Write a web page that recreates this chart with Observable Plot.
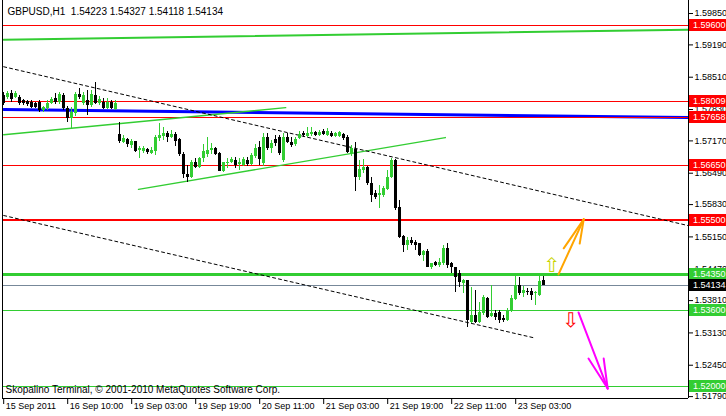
<!DOCTYPE html>
<html><head><meta charset="utf-8">
<script src="https://cdn.jsdelivr.net/npm/d3@7"></script>
<script src="https://cdn.jsdelivr.net/npm/@observablehq/plot@0.6"></script>
<style>
html,body{margin:0;padding:0;background:#fff;}
#chart{width:726px;height:416px;overflow:hidden;}
</style></head><body><div id="chart"></div>
<script>
const symbol = "GBPUSD", timeframe = "H1";
const open = [1.5812,1.5808,1.5817,1.5808,1.5808,1.5802,1.5800,1.5798,1.5796,1.5798,
1.5781,1.5785,1.5796,1.5806,1.5798,1.5812,1.5785,1.5764,1.5775,1.5815,
1.5796,1.5802,1.5791,1.5812,1.5796,1.5798,1.5785,1.5798,1.5783,1.5731,
1.5714,1.5720,1.5707,1.5716,1.5697,1.5695,1.5699,1.5691,1.5695,1.5722,
1.5726,1.5733,1.5724,1.5731,1.5720,1.5689,1.5647,1.5640,1.5672,1.5661,
1.5680,1.5689,1.5697,1.5701,1.5691,1.5653,1.5670,1.5672,1.5676,1.5668,
1.5665,1.5676,1.5668,1.5684,1.5703,1.5670,1.5724,1.5701,1.5720,1.5724,
1.5676,1.5724,1.5714,1.5710,1.5722,1.5733,1.5726,1.5731,1.5735,1.5728,
1.5737,1.5728,1.5733,1.5726,1.5726,1.5731,1.5724,1.5691,1.5699,1.5640,
1.5655,1.5661,1.5628,1.5607,1.5602,1.5602,1.5615,1.5640,1.5676,1.5577,
1.5516,1.5497,1.5507,1.5503,1.5501,1.5476,1.5484,1.5451,1.5461,1.5455,
1.5459,1.5491,1.5459,1.5451,1.5438,1.5417,1.5423,1.5335,1.5350,1.5335,
1.5354,1.5386,1.5348,1.5354,1.5356,1.5344,1.5339,1.5360,1.5384,1.5413,
1.5396,1.5400,1.5400,1.5396,1.5392,1.54223];
const high = [1.5819,1.5821,1.5823,1.5821,1.5812,1.5804,1.5802,1.5802,1.5798,1.5802,
1.5789,1.5802,1.5808,1.5817,1.5819,1.5817,1.5789,1.5787,1.5819,1.5827,
1.5819,1.5823,1.5823,1.5840,1.5810,1.5806,1.5806,1.5802,1.5802,1.5756,
1.5728,1.5722,1.5720,1.5716,1.5705,1.5705,1.5701,1.5703,1.5728,1.5754,
1.5745,1.5737,1.5739,1.5735,1.5722,1.5693,1.5665,1.5676,1.5680,1.5682,
1.5710,1.5724,1.5712,1.5703,1.5693,1.5672,1.5680,1.5682,1.5682,1.5680,
1.5682,1.5682,1.5691,1.5710,1.5716,1.5733,1.5733,1.5718,1.5728,1.5728,
1.5733,1.5733,1.5724,1.5724,1.5737,1.5737,1.5745,1.5745,1.5737,1.5739,
1.5741,1.5743,1.5737,1.5735,1.5737,1.5733,1.5728,1.5707,1.5714,1.5676,
1.5678,1.5663,1.5640,1.5613,1.5623,1.5621,1.5655,1.5680,1.5678,1.5592,
1.5518,1.5514,1.5514,1.5507,1.5501,1.5486,1.5488,1.5459,1.5463,1.5470,
1.5497,1.5501,1.5461,1.5451,1.5444,1.5426,1.5423,1.5409,1.5402,1.5377,
1.5392,1.5388,1.5413,1.5360,1.5360,1.5350,1.5365,1.5392,1.5434,1.5430,
1.5411,1.5407,1.5407,1.5400,1.5432,1.54327];
const low = [1.5791,1.5804,1.5798,1.5806,1.5791,1.5791,1.5789,1.5785,1.5785,1.5777,
1.5777,1.5781,1.5794,1.5794,1.5794,1.5781,1.5756,1.5743,1.5768,1.5804,
1.5791,1.5770,1.5787,1.5794,1.5791,1.5783,1.5783,1.5783,1.5781,1.5712,
1.5712,1.5703,1.5701,1.5693,1.5680,1.5691,1.5689,1.5689,1.5686,1.5716,
1.5718,1.5714,1.5722,1.5705,1.5684,1.5638,1.5630,1.5638,1.5659,1.5659,
1.5672,1.5682,1.5689,1.5686,1.5653,1.5651,1.5659,1.5670,1.5659,1.5655,
1.5663,1.5663,1.5665,1.5680,1.5665,1.5663,1.5697,1.5691,1.5705,1.5686,
1.5672,1.5712,1.5703,1.5705,1.5720,1.5724,1.5724,1.5726,1.5726,1.5726,
1.5728,1.5726,1.5724,1.5724,1.5724,1.5718,1.5691,1.5684,1.5611,1.5634,
1.5649,1.5623,1.5588,1.5594,1.5575,1.5598,1.5613,1.5638,1.5571,1.5512,
1.5482,1.5486,1.5497,1.5486,1.5474,1.5463,1.5451,1.5447,1.5453,1.5451,
1.5455,1.5449,1.5438,1.5398,1.5409,1.5396,1.5325,1.5333,1.5333,1.5333,
1.5350,1.5344,1.5346,1.5339,1.5333,1.5335,1.5337,1.5356,1.5381,1.5392,
1.5388,1.5392,1.5381,1.5371,1.5390,1.54118];
const close = [1.5796,1.5817,1.5804,1.5817,1.5796,1.5796,1.5794,1.5787,1.5787,1.5781,
1.5787,1.5796,1.5804,1.5798,1.5815,1.5785,1.5764,1.5777,1.5815,1.5808,
1.5812,1.5791,1.5815,1.5796,1.5804,1.5785,1.5798,1.5785,1.5796,1.5716,
1.5722,1.5710,1.5716,1.5695,1.5701,1.5701,1.5693,1.5697,1.5724,1.5728,
1.5733,1.5724,1.5731,1.5716,1.5689,1.5647,1.5640,1.5672,1.5661,1.5680,
1.5695,1.5697,1.5701,1.5689,1.5653,1.5672,1.5672,1.5678,1.5665,1.5672,
1.5678,1.5668,1.5686,1.5701,1.5678,1.5724,1.5701,1.5712,1.5712,1.5691,
1.5724,1.5714,1.5707,1.5720,1.5731,1.5728,1.5733,1.5735,1.5728,1.5735,
1.5731,1.5737,1.5726,1.5733,1.5735,1.5722,1.5693,1.5701,1.5640,1.5657,
1.5661,1.5628,1.5602,1.5598,1.5607,1.5617,1.5640,1.5676,1.5575,1.5514,
1.5497,1.5507,1.5501,1.5497,1.5476,1.5484,1.5451,1.5459,1.5455,1.5461,
1.5491,1.5455,1.5451,1.5430,1.5419,1.5423,1.5339,1.5350,1.5335,1.5356,
1.5388,1.5346,1.5354,1.5346,1.5339,1.5339,1.5360,1.5386,1.5413,1.5396,
1.5402,1.5398,1.5392,1.5398,1.5421,1.54134];

const xTickIndex = [0,16,32,48,64,80,96,112,128];
const xTickLabels = ["15 Sep 2011","16 Sep 10:00","19 Sep 03:00","19 Sep 19:00","20 Sep 11:00","21 Sep 03:00","21 Sep 19:00","22 Sep 11:00","23 Sep 03:00"];
const yTicks = [1.59850,1.59190,1.58510,1.57830,1.57170,1.56490,1.55830,1.55150,1.54470,1.53810,1.53130,1.52450,1.51790];

const redLevels = [1.59600,1.58009,1.57658,1.56650];
const keyResistance = [1.55500];
const keySupport = [1.54350];
const greenLevels = [1.53600,1.52000];

const topTrend = [[0,1.5930],[171,1.5951]];
const blueTrend = [[0,1.5783],[171,1.5766]];
const channelUpper = [[0,1.5730],[70.5,1.5787]];
const channelLower = [[33.7,1.5615],[110.4,1.5724]];
const dottedUpper = [[0,1.5873],[171,1.5539]];
const dottedLower = [[0,1.5560],[132.4,1.5303]];
const bullTarget = [[[138.7,1.5436],[145,1.5552]],[[140,1.5491],[145,1.5552]],[[144,1.5501],[145,1.5552]]];
const bearTarget = [[[143.7,1.5356],[151,1.5196]],[[146.2,1.5259],[151,1.5196]],[[150,1.5259],[151,1.5196]]];
const upSignal = [[137,1.5455]];
const downSignal = [[141.7,1.5339]];
const copyright = "Skopalino Terminal, \u00a9 2001-2010 MetaQuotes Software Corp.";

const GREEN = "#32cd32", RED = "#ff0000", BLUE = "#0000ff";
const FONT = "'Liberation Sans', Arial, sans-serif";
const xDomain = [-0.3, 171.2];
const yDomain = [1.5175, 1.60124];
const n = close.length - 1;
const candles = close.map((c, i) => ({i, open: open[i], high: high[i], low: low[i], close: c}));
const candleColor = d => d.close > d.open ? GREEN : "#000000";
const title = `${symbol},${timeframe}\u00a0\u00a0${open[n].toFixed(5)} ${high[n].toFixed(5)} ${low[n].toFixed(5)} ${close[n].toFixed(5)}`;
const tickLabel = new Map(xTickIndex.map((d, i) => [d, xTickLabels[i]]));

const chart = Plot.plot({
  width: 726, height: 416,
  marginTop: 0, marginBottom: 18, marginLeft: 2, marginRight: 38,
  style: {fontFamily: FONT, fontSize: "9px", color: "#000", background: "#fff", overflow: "visible"},
  x: {domain: xDomain, axis: null},
  y: {domain: yDomain, axis: null},
  marks: [
    Plot.axisY(yTicks, {anchor: "right", label: null, tickSize: 4, tickFormat: () => ""}),
    Plot.text(yTicks, {y: d => d, frameAnchor: "right", dx: 6, textAnchor: "start", lineAnchor: "middle", fill: "#000", text: d => d.toFixed(5)}),
    Plot.axisX(xTickIndex, {anchor: "bottom", label: null, tickSize: 6, tickFormat: () => ""}),
    Plot.axisX(xTickIndex, {anchor: "bottom", label: null, tickSize: 0, tickPadding: 4, textAnchor: "start", dx: 2, tickFormat: d => tickLabel.get(d)}),
    Plot.line(topTrend, {stroke: GREEN, strokeWidth: 2}),
    Plot.line(blueTrend, {stroke: BLUE, strokeWidth: 3}),
    Plot.ruleY(redLevels, {stroke: RED, strokeWidth: 1, shapeRendering: "crispEdges"}),
    Plot.ruleY(keyResistance, {stroke: RED, strokeWidth: 2, shapeRendering: "crispEdges"}),
    Plot.ruleY(keySupport, {stroke: GREEN, strokeWidth: 3, shapeRendering: "crispEdges"}),
    Plot.ruleY(greenLevels, {stroke: GREEN, strokeWidth: 1, shapeRendering: "crispEdges"}),
    Plot.ruleY([close[n]], {stroke: "#778899", strokeWidth: 1, shapeRendering: "crispEdges"}),
    Plot.line(channelUpper, {stroke: GREEN, strokeWidth: 1.4}),
    Plot.line(channelLower, {stroke: GREEN, strokeWidth: 1.4}),
    Plot.line(dottedUpper, {stroke: "#000", strokeWidth: 1, strokeDasharray: "3,3"}),
    Plot.line(dottedLower, {stroke: "#000", strokeWidth: 1, strokeDasharray: "3,3"}),
    Plot.ruleX(candles, {x: "i", y1: "low", y2: "high", stroke: candleColor, strokeWidth: 1, shapeRendering: "crispEdges"}),
    Plot.ruleX(candles, {x: "i", y1: "open", y2: "close", stroke: candleColor, strokeWidth: 3, shapeRendering: "crispEdges"}),
    ...bullTarget.map(seg => Plot.line(seg, {stroke: "#ffa500", strokeWidth: 2})),
    ...bearTarget.map(seg => Plot.line(seg, {stroke: "#ff00ff", strokeWidth: 2})),
    Plot.text(upSignal, {text: () => "\u21e7", fill: "#c8d400", fontSize: 20, fontFamily: "DejaVu Sans"}),
    Plot.text(downSignal, {text: () => "\u21e9", fill: RED, fontSize: 20, fontFamily: "DejaVu Sans"}),
    Plot.ruleX(xDomain, {stroke: "#000", strokeWidth: 1, shapeRendering: "crispEdges"}),
    Plot.ruleY([yDomain[0]], {stroke: "#000", strokeWidth: 1, shapeRendering: "crispEdges"}),
    Plot.text([title], {frameAnchor: "top-left", dx: 5, dy: 11, lineAnchor: "middle", textAnchor: "start", fill: "#000", fontSize: 10}),
    Plot.text([copyright], {frameAnchor: "bottom-left", dx: 3, dy: -9, lineAnchor: "middle", textAnchor: "start", fill: "#000", fontSize: 10})
  ]
});

// price labels in the right margin, positioned with the plot's own y scale
const yScale = chart.scale("y");
const levelLabels = [
  ...redLevels.map(p => [p, RED]),
  ...keyResistance.map(p => [p, RED]),
  ...keySupport.map(p => [p, GREEN]),
  ...greenLevels.map(p => [p, GREEN]),
  [close[n], "#000000"]
];
const svg = d3.select(chart);
const g = svg.append("g");
levelLabels.forEach(([p, c]) => {
  const yy = Math.round(yScale.apply(p));
  g.append("rect").attr("x", 689).attr("y", yy - 6).attr("width", 37).attr("height", 12).attr("fill", c);
  g.append("text").attr("x", 693).attr("y", yy).attr("dy", "0.35em").attr("fill", "#fff")
    .attr("text-anchor", "start").style("font-size", "9px").style("font-family", FONT).text(p.toFixed(5));
});

document.getElementById("chart").appendChild(chart);
</script></body></html>
